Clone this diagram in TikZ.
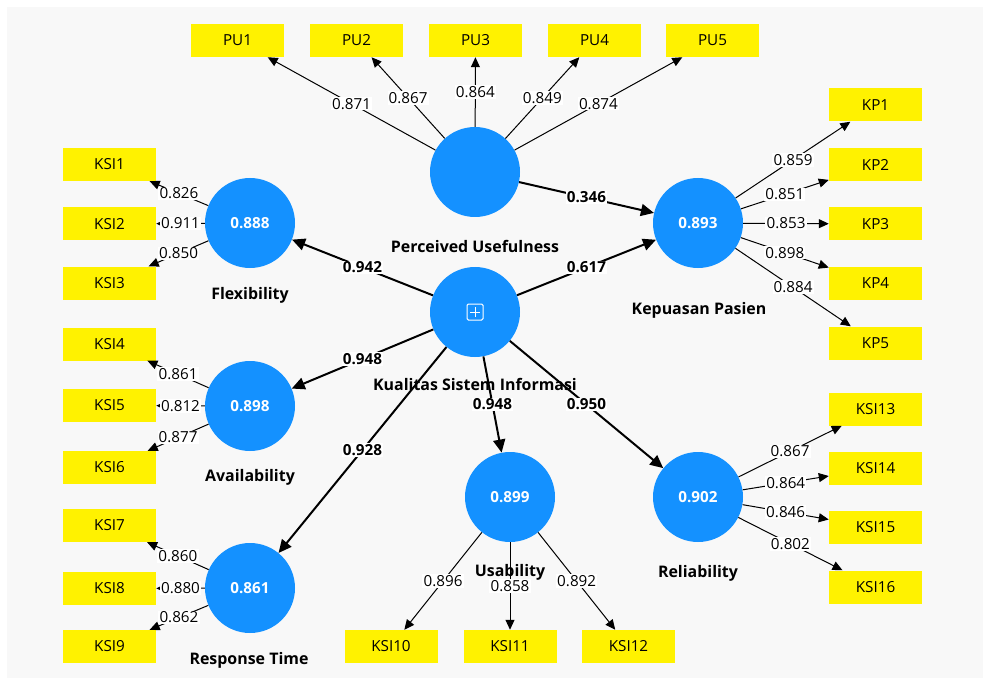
\documentclass[tikz,border=0pt]{standalone}
\usepackage{fontspec}
\setmainfont{Open Sans}
\usetikzlibrary{arrows.meta}
\definecolor{lvblue}{RGB}{20,145,255}
\definecolor{bggray}{RGB}{248,248,248}

\begin{document}
\begin{tikzpicture}[x=0.3mm, y=-0.3mm,
  lv/.style = {circle, fill=lvblue, text=white, minimum size=27mm, inner sep=0pt, font=\bfseries\fontsize{13}{15}\selectfont},
  ind/.style = {fill=yellow, minimum width=27.9mm, minimum height=9.9mm, inner sep=0pt, font=\fontsize{13}{15}\selectfont},
  lvname/.style = {font=\bfseries\fontsize{13.6}{16}\selectfont},
  load/.style = {-{Triangle[length=3mm,width=2.7mm]}, line width=0.3mm},
  struct/.style = {-{Triangle[length=3.9mm,width=3.6mm]}, line width=0.6mm},
  lw/.style = {fill=white, inner sep=1pt, font=\fontsize{13}{15}\selectfont},
  pw/.style = {fill=white, inner sep=1pt, font=\bfseries\fontsize{13}{15}\selectfont}]
  \useasboundingbox (0,0) rectangle (983,678);
  \fill[bggray] (7,7) rectangle (983,678);

  % latent variable names
  \node[lvname] (tpu) at (475,246) {Perceived Usefulness};
  \node[lvname] (tflex) at (250,295) {Flexibility};
  \node[lvname] (tkp) at (699,310) {Kepuasan Pasien};
  \node[lvname] (tksi) at (475,384) {Kualitas Sistem Informasi};
  \node[lvname] (tavail) at (250,477) {Availability};
  \node[lvname] (trt) at (249,660) {Response Time};
  \node[lvname] (tusab) at (510,572) {Usability};
  \node[lvname] (trel) at (698,573) {Reliability};

  % latent variables
  \node[lv] (pu) at (475,172) {};
  \node[lv] (ksi) at (475,312) {};
  \node[lv] (kp) at (698,223) {0.893};
  \node[lv] (flex) at (250,223) {0.888};
  \node[lv] (avail) at (250,406) {0.898};
  \node[lv] (rt) at (250,588) {0.861};
  \node[lv] (usab) at (510,497) {0.899};
  \node[lv] (rel) at (698,497) {0.902};
  \draw[white, line width=0.3mm, rounded corners=1.2pt] (467,304) rectangle (483,320);
  \draw[white, line width=0.3mm] (470,312) -- (480,312) (475,307) -- (475,317);

  % indicators
  \node[ind] (pu1) at (237.5,40.5) {PU1};
  \node[ind] (pu2) at (356.5,40.5) {PU2};
  \node[ind] (pu3) at (475.5,40.5) {PU3};
  \node[ind] (pu4) at (594.5,40.5) {PU4};
  \node[ind] (pu5) at (712.5,40.5) {PU5};
  \node[ind] (ksi1) at (109.5,164.5) {KSI1};
  \node[ind] (ksi2) at (109.5,224) {KSI2};
  \node[ind] (ksi3) at (109.5,283) {KSI3};
  \node[ind] (ksi4) at (109.5,344) {KSI4};
  \node[ind] (ksi5) at (109.5,405.5) {KSI5};
  \node[ind] (ksi6) at (109.5,467.5) {KSI6};
  \node[ind] (ksi7) at (109.5,525.5) {KSI7};
  \node[ind] (ksi8) at (109.5,588.5) {KSI8};
  \node[ind] (ksi9) at (109.5,646.5) {KSI9};
  \node[ind] (ksi10) at (391,646.5) {KSI10};
  \node[ind] (ksi11) at (510,646.5) {KSI11};
  \node[ind] (ksi12) at (628.5,646.5) {KSI12};
  \node[ind] (kp1) at (875.5,105) {KP1};
  \node[ind] (kp2) at (875.5,164.5) {KP2};
  \node[ind] (kp3) at (875.5,224) {KP3};
  \node[ind] (kp4) at (875.5,283.5) {KP4};
  \node[ind] (kp5) at (875.5,343) {KP5};
  \node[ind] (ksi13) at (875.5,409) {KSI13};
  \node[ind] (ksi14) at (875.5,468.5) {KSI14};
  \node[ind] (ksi15) at (875.5,527.5) {KSI15};
  \node[ind] (ksi16) at (875.5,587) {KSI16};

  % outer loadings
  \draw[load] (pu) to node[lw] {0.871} (pu1);
  \draw[load] (pu) to node[lw] {0.867} (pu2);
  \draw[load] (pu) to node[lw] {0.864} (pu3);
  \draw[load] (pu) to node[lw] {0.849} (pu4);
  \draw[load] (pu) to node[lw] {0.874} (pu5);
  \draw[load] (flex) to node[lw] {0.826} (ksi1);
  \draw[load] (flex) to node[lw] {0.911} (ksi2);
  \draw[load] (flex) to node[lw] {0.850} (ksi3);
  \draw[load] (avail) to node[lw] {0.861} (ksi4);
  \draw[load] (avail) to node[lw] {0.812} (ksi5);
  \draw[load] (avail) to node[lw] {0.877} (ksi6);
  \draw[load] (rt) to node[lw] {0.860} (ksi7);
  \draw[load] (rt) to node[lw] {0.880} (ksi8);
  \draw[load] (rt) to node[lw] {0.862} (ksi9);
  \draw[load] (usab) to node[lw] {0.896} (ksi10);
  \draw[load] (usab) to node[lw] {0.858} (ksi11);
  \draw[load] (usab) to node[lw] {0.892} (ksi12);
  \draw[load] (kp) to node[lw] {0.859} (kp1);
  \draw[load] (kp) to node[lw] {0.851} (kp2);
  \draw[load] (kp) to node[lw] {0.853} (kp3);
  \draw[load] (kp) to node[lw] {0.898} (kp4);
  \draw[load] (kp) to node[lw] {0.884} (kp5);
  \draw[load] (rel) to node[lw] {0.867} (ksi13);
  \draw[load] (rel) to node[lw] {0.864} (ksi14);
  \draw[load] (rel) to node[lw] {0.846} (ksi15);
  \draw[load] (rel) to node[lw] {0.802} (ksi16);

  % path coefficients
  \draw[struct] (pu) to node[pw] {0.346} (kp);
  \draw[struct] (ksi) to node[pw] {0.617} (kp);
  \draw[struct] (ksi) to node[pw] {0.942} (flex);
  \draw[struct] (ksi) to node[pw] {0.948} (avail);
  \draw[struct] (ksi) to node[pw] {0.928} (rt);
  \draw[struct] (ksi) to node[pw] {0.948} (usab);
  \draw[struct] (ksi) to node[pw] {0.950} (rel);
\end{tikzpicture}
\end{document}
